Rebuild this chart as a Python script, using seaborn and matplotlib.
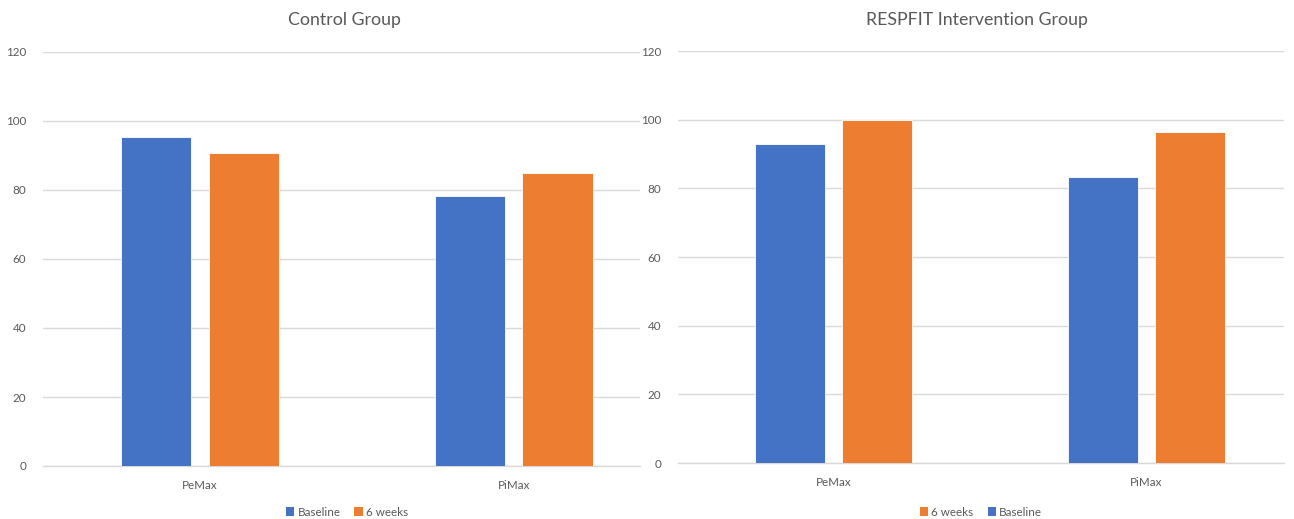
import matplotlib
matplotlib.use("Agg")
import matplotlib.pyplot as plt
from matplotlib.patches import Patch
import seaborn as sns
import pandas as pd

measures = ["PeMax", "PiMax"]
timepoints = ["Baseline", "6 weeks"]

control_baseline = [95.5, 78.3]
control_6weeks = [90.7, 84.9]
respfit_baseline = [93.0, 83.3]
respfit_6weeks = [99.9, 96.4]

panel_titles = ["Control Group", "RESPFIT Intervention Group"]
y_ticks = [0, 20, 40, 60, 80, 100, 120]

colors = {"Baseline": "#4472C4", "6 weeks": "#ED7D31"}
grid_color = "#D9D9D9"
text_color = "#595959"


def long_frame(baseline, weeks6):
    rows = []
    for m, b, w in zip(measures, baseline, weeks6):
        rows.append({"measure": m, "time": "Baseline", "value": b})
        rows.append({"measure": m, "time": "6 weeks", "value": w})
    return pd.DataFrame(rows)


sns.set_theme(style="white")
plt.rcParams["font.family"] = ["Lato", "DejaVu Sans"]

fig = plt.figure(figsize=(12.94, 5.19), dpi=100)

W, H = 1294, 519
panels = [
    dict(box=(43, 52, 640, 466), xlim=(-0.5, 1.403), title_x=344.5,
         df=long_frame(control_baseline, control_6weeks),
         legend_order=["Baseline", "6 weeks"], legend_x=347),
    dict(box=(678, 51, 1284, 463), xlim=(-0.497, 1.44), title_x=977,
         df=long_frame(respfit_baseline, respfit_6weeks),
         legend_order=["6 weeks", "Baseline"], legend_x=981),
]

for p, title in zip(panels, panel_titles):
    x0, y0, x1, y1 = p["box"]
    ax = fig.add_axes([x0 / W, 1 - y1 / H, (x1 - x0) / W, (y1 - y0) / H])
    sns.barplot(data=p["df"], x="measure", y="value", hue="time",
                order=measures, hue_order=timepoints, palette=colors,
                saturation=1, width=0.56, gap=0.2, edgecolor="white",
                linewidth=0.6, ax=ax, legend=False, zorder=3)
    ax.set_xlim(*p["xlim"])
    ax.set_ylim(0, 120)
    ax.set_yticks(y_ticks)
    ax.set_yticklabels([str(t) for t in y_ticks])
    ax.yaxis.grid(True, color=grid_color, linewidth=1.0, zorder=0)
    ax.set_axisbelow(True)
    for s in ["top", "right", "left"]:
        ax.spines[s].set_visible(False)
    ax.spines["bottom"].set_color(grid_color)
    ax.spines["bottom"].set_linewidth(1.0)
    ax.tick_params(axis="both", length=0, colors=text_color, labelsize=8.4)
    ax.tick_params(axis="y", pad=12)
    ax.tick_params(axis="x", pad=10)
    ax.set_xlabel("")
    ax.set_ylabel("")

    fig.text(p["title_x"] / W, 1 - 20 / H, title, ha="center", va="center",
             fontsize=12.8, color=text_color)

    handles = [Patch(facecolor=colors[t], edgecolor="none") for t in p["legend_order"]]
    fig.legend(handles, p["legend_order"], loc="center",
               bbox_to_anchor=(p["legend_x"] / W, 1 - 512 / H), ncol=2,
               frameon=False, fontsize=8.4, handlelength=0.7, handleheight=0.7,
               handletextpad=0.3, columnspacing=1.2, labelcolor=text_color,
               borderaxespad=0, borderpad=0)

fig.savefig("out.png", dpi=100, facecolor="white")
